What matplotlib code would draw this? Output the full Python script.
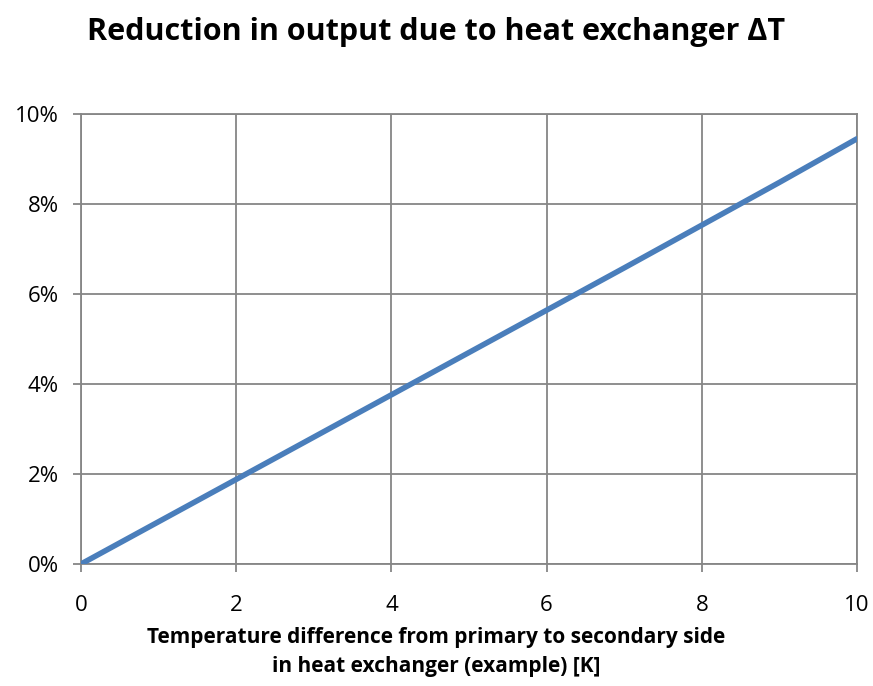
import matplotlib
matplotlib.use("Agg")
import matplotlib.pyplot as plt
from matplotlib.ticker import PercentFormatter

plt.rcParams['font.family'] = ['Open Sans', 'DejaVu Sans']

x_vals = [0, 1, 2, 3, 4, 5, 6, 7, 8, 9, 10]
reduction = [0.0, 0.94, 1.88, 2.82, 3.76, 4.70, 5.64, 6.58, 7.53, 8.48, 9.45]
x_ticks = [0, 2, 4, 6, 8, 10]
y_ticks = [0, 2, 4, 6, 8, 10]

fig = plt.figure(figsize=(8.73, 6.86), dpi=100)
ax = fig.add_axes([81/873, 1-564/686, (857-81)/873, (564-114)/686])

ax.plot(x_vals, reduction, color='#4a7ebb', lw=4, solid_capstyle='round', zorder=3)
ax.set_xlim(0, 10)
ax.set_ylim(0, 10)
ax.set_xticks(x_ticks)
ax.set_yticks(y_ticks)
ax.yaxis.set_major_formatter(PercentFormatter(decimals=0))
ax.grid(True, color='#868686', lw=1.3)
for s in ax.spines.values():
    s.set_color('#868686')
    s.set_linewidth(1.3)
ax.tick_params(axis='both', colors='#868686', labelcolor='black', labelsize=16, length=6, width=1.3)
ax.tick_params(axis='x', pad=16)
ax.tick_params(axis='y', pad=10)

fig.text(0.5, 1-32/686, 'Reduction in output due to heat exchanger ΔT', ha='center', va='center',
         fontsize=22, fontweight='bold')
fig.text(0.5, 1-652/686, 'Temperature difference from primary to secondary side\nin heat exchanger (example) [K]',
         ha='center', va='center', fontsize=15, fontweight='bold', linespacing=1.5)

fig.savefig('out.png', dpi=100)
